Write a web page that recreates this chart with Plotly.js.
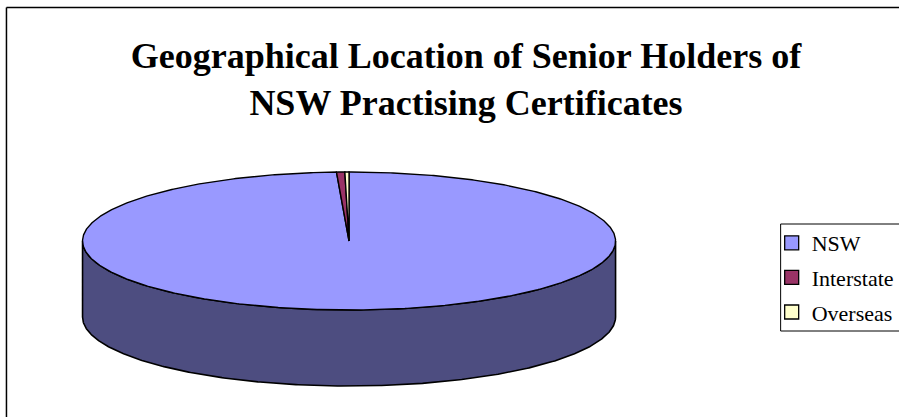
<!DOCTYPE html>
<html>
<head>
<meta charset="utf-8">
<script src="https://cdn.plot.ly/plotly-3.0.1.min.js"></script>
<style>html,body{margin:0;padding:0;background:#fff;}#chart{width:899px;height:417px;}</style>
</head>
<body>
<div id="chart"></div>
<script>
// ---- data ----
var categories = ["NSW", "Interstate", "Overseas"];
var values = [99.25, 0.5, 0.25];
var topColors = ["#9999ff", "#993366", "#ffffcc"];
var sideColors = ["#4d4d80", "#4d1a33", "#808066"];
var titleText = "Geographical Location of Senior Holders of<br>NSW Practising Certificates";

// ---- geometry of the 3D pie (layout constants, pixel space) ----
var CX = 351, CY = 241, RX = 268, RY = 69, DEPTH = 76;

function pt(deg, dy) {
  var r = deg * Math.PI / 180;
  return [CX + RX * Math.sin(r), CY - RY * Math.cos(r) + (dy || 0)];
}
function arc(a0, a1, dy) {
  var pts = [], n = Math.max(2, Math.ceil(Math.abs(a1 - a0) / 0.5));
  for (var i = 0; i <= n; i++) pts.push(pt(a0 + (a1 - a0) * i / n, dy));
  return pts;
}

var total = values.reduce(function (s, v) { return s + v; }, 0);
var traces = [];
var sideTraces = [], topTraces = [];
var start = 0;
values.forEach(function (v, i) {
  var a0 = start, a1 = start + v / total * 360;
  start = a1;
  // side (front half: 90..270 deg clockwise from top)
  var s0 = Math.max(a0, 90), s1 = Math.min(a1, 270);
  if (s1 > s0) {
    var upper = arc(s0, s1, 0), lower = arc(s1, s0, DEPTH);
    var poly = upper.concat(lower); poly.push(upper[0]);
    sideTraces.push({
      type: "scatter", mode: "lines", fill: "toself",
      x: poly.map(function (p) { return p[0]; }),
      y: poly.map(function (p) { return p[1]; }),
      fillcolor: sideColors[i], line: { color: "#000", width: 1.6 },
      hoverinfo: "skip", showlegend: false
    });
  }
  // top face wedge
  var w = [[CX, CY]].concat(arc(a0, a1, 0)); w.push([CX, CY]);
  topTraces.push({
    type: "scatter", mode: "lines", fill: "toself",
    x: w.map(function (p) { return p[0]; }),
    y: w.map(function (p) { return p[1]; }),
    fillcolor: topColors[i], line: { color: "#000", width: 1.4 },
    name: categories[i], text: categories[i] + ": " + v,
    hoverinfo: "text", showlegend: false
  });
});
traces = traces.concat(sideTraces, topTraces);

// legend entries
categories.forEach(function (c, i) {
  traces.push({
    type: "scatter", mode: "markers", x: [null], y: [null], name: c,
    legendgroup: c,
    marker: { symbol: "square", size: 14, color: topColors[i], line: { color: "#000", width: 1.3 } },
    showlegend: true, hoverinfo: "skip"
  });
});

var layout = {
  width: 899, height: 417, autosize: false,
  margin: { l: 0, r: 0, t: 0, b: 0 },
  paper_bgcolor: "#fff", plot_bgcolor: "#fff",
  xaxis: { range: [0, 899], visible: false, fixedrange: true },
  yaxis: { range: [417, 0], visible: false, fixedrange: true },
  title: {
    text: titleText,
    font: { family: "Liberation Serif, Times New Roman, serif", size: 36, color: "#000", weight: "bold" },
    x: 466 / 899, xanchor: "center", y: 1 - 68 / 417, yanchor: "top"
  },
  showlegend: true,
  legend: {
    x: 776 / 899, y: 1 - 222 / 417, xanchor: "left", yanchor: "top",
    font: { family: "Liberation Serif, Times New Roman, serif", size: 22, color: "#000" },
    bgcolor: "rgba(0,0,0,0)", borderwidth: 0, tracegroupgap: 3,
    itemsizing: "trace"
  },
  shapes: [
    { type: "rect", xref: "paper", yref: "paper", x0: 785 / 899, x1: 910 / 899, y0: 1 - 331 / 417, y1: 1 - 224 / 417,
      line: { color: "#000", width: 1 }, fillcolor: "rgba(0,0,0,0)", layer: "below" },
    { type: "line", xref: "paper", yref: "paper", x0: 6.5 / 899, x1: 1.01, y0: 1 - 7.5 / 417, y1: 1 - 7.5 / 417,
      line: { color: "#000", width: 1.5 } },
    { type: "line", xref: "paper", yref: "paper", x0: 6.5 / 899, x1: 6.5 / 899, y0: 1 - 7.5 / 417, y1: -0.01,
      line: { color: "#000", width: 1.5 } }
  ]
};

Plotly.newPlot("chart", traces, layout, { displayModeBar: false, staticPlot: true });
</script>
</body>
</html>
